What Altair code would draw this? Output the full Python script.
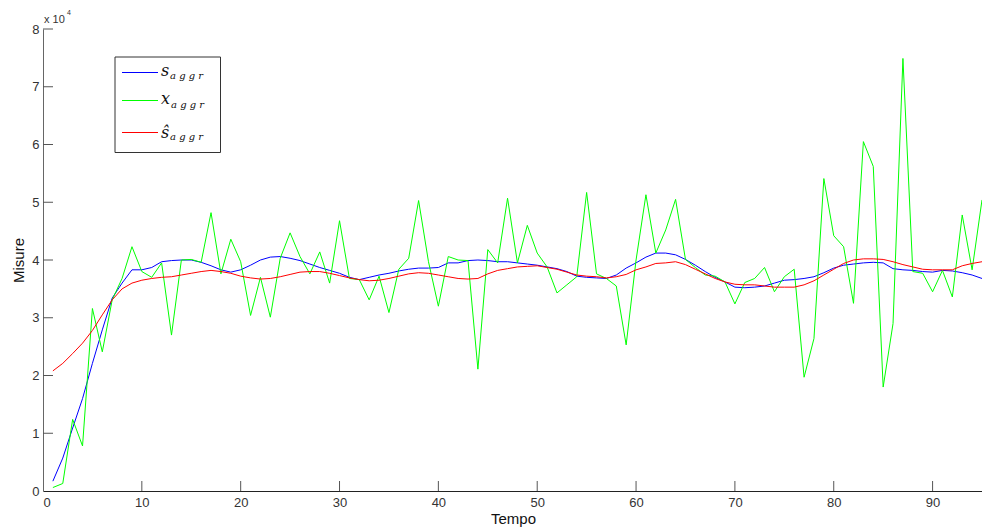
import altair as alt
import pandas as pd

# values in units of 10^4
t = list(range(1, 96))
x_aggr = [0.06, 0.13, 1.24, 0.78, 3.16, 2.41, 3.31, 3.68, 4.23, 3.80,
          3.70, 3.95, 2.70, 4.00, 4.01, 3.96, 4.82, 3.76, 4.36, 3.97,
          3.04, 3.70, 3.01, 4.03, 4.47, 4.06, 3.76, 4.14, 3.60, 4.68,
          3.68, 3.66, 3.31, 3.72, 3.09, 3.84, 4.03, 5.03, 3.97, 3.20,
          4.06, 4.00, 3.99, 2.11, 4.18, 3.95, 5.07, 3.95, 4.60, 4.12,
          3.88, 3.43, 3.57, 3.71, 5.17, 3.76, 3.68, 3.55, 2.53, 4.00,
          5.13, 4.12, 4.52, 5.05, 4.01, 3.87, 3.74, 3.72, 3.62, 3.24,
          3.61, 3.68, 3.87, 3.45, 3.71, 3.84, 1.97, 2.64, 5.41, 4.42,
          4.23, 3.25, 6.05, 5.62, 1.80, 2.90, 7.49, 3.80, 3.77, 3.45,
          3.82, 3.36, 4.78, 3.83, 5.04]
s_aggr = [0.17, 0.57, 1.09, 1.60, 2.21, 2.79, 3.34, 3.60, 3.83, 3.83,
          3.87, 3.97, 3.99, 4.00, 4.00, 3.96, 3.90, 3.83, 3.79, 3.83,
          3.91, 4.00, 4.05, 4.06, 4.03, 3.99, 3.93, 3.87, 3.82, 3.77,
          3.70, 3.66, 3.70, 3.74, 3.77, 3.81, 3.84, 3.86, 3.86, 3.87,
          3.95, 3.95, 3.99, 4.00, 3.99, 3.97, 3.97, 3.95, 3.93, 3.91,
          3.88, 3.85, 3.80, 3.72, 3.70, 3.69, 3.68, 3.74, 3.86, 3.95,
          4.05, 4.12, 4.12, 4.09, 4.01, 3.91, 3.80, 3.70, 3.62, 3.53,
          3.52, 3.53, 3.55, 3.60, 3.65, 3.66, 3.68, 3.71, 3.78, 3.86,
          3.91, 3.93, 3.95, 3.96, 3.95, 3.85, 3.83, 3.82, 3.80, 3.79,
          3.82, 3.81, 3.78, 3.74, 3.68]
s_hat = [2.08, 2.21, 2.38, 2.56, 2.78, 3.05, 3.31, 3.50, 3.60, 3.65,
         3.68, 3.70, 3.71, 3.74, 3.77, 3.80, 3.82, 3.80, 3.77, 3.72,
         3.69, 3.67, 3.68, 3.71, 3.75, 3.79, 3.80, 3.80, 3.77, 3.73,
         3.69, 3.66, 3.64, 3.65, 3.68, 3.72, 3.76, 3.78, 3.77, 3.74,
         3.71, 3.68, 3.67, 3.68, 3.76, 3.82, 3.85, 3.88, 3.89, 3.90,
         3.87, 3.84, 3.79, 3.74, 3.72, 3.71, 3.69, 3.71, 3.75, 3.83,
         3.88, 3.94, 3.95, 3.97, 3.92, 3.84, 3.76, 3.68, 3.62, 3.58,
         3.57, 3.57, 3.55, 3.53, 3.53, 3.53, 3.57, 3.64, 3.74, 3.84,
         3.94, 4.00, 4.02, 4.02, 4.01, 3.97, 3.92, 3.88, 3.84, 3.83,
         3.83, 3.83, 3.90, 3.94, 3.97]
y_ticks = [1, 2, 3, 4, 5, 6, 7, 8]
x_ticks = [10, 20, 30, 40, 50, 60, 70, 80, 90]

W, H = 939, 462
FONT = "Liberation Sans, Arial, sans-serif"
SERIF = "DejaVu Serif, serif"

df = pd.DataFrame({"t": t, "x": x_aggr, "s": s_aggr, "sh": s_hat})

xs = alt.Scale(domain=[0, 95], nice=False, zero=False)
ys = alt.Scale(domain=[0, 8], nice=False)

xaxis = alt.Axis(values=[0] + x_ticks, format="d", ticks=False, grid=False,
                 labelFontSize=13, labelColor="#333", labelFont=FONT,
                 labelPadding=5, domainColor="#222", title="Tempo",
                 titleFont=FONT, titleFontSize=15, titleFontWeight="normal",
                 titleColor="#111", titleX=470, titleY=27,
                 titleBaseline="middle", titleAlign="center")
yaxis = alt.Axis(values=[0] + y_ticks, format="d", ticks=False, grid=False,
                 labelFontSize=13, labelColor="#333", labelFont=FONT,
                 labelPadding=4, domainColor="#666", title="Misure",
                 titleFont=FONT, titleFontSize=15, titleFontWeight="normal",
                 titleColor="#111", titleX=-25, titleY=231, titleAngle=270,
                 titleBaseline="middle", titleAlign="center")

base = alt.Chart(df)
line_s = base.mark_line(color="#0000ff", strokeWidth=1).encode(
    x=alt.X("t:Q", scale=xs, axis=xaxis), y=alt.Y("s:Q", scale=ys, axis=yaxis))
line_x = base.mark_line(color="#00ff00", strokeWidth=1).encode(
    x=alt.X("t:Q", scale=xs), y=alt.Y("x:Q", scale=ys))
line_h = base.mark_line(color="#ff0000", strokeWidth=1).encode(
    x=alt.X("t:Q", scale=xs), y=alt.Y("sh:Q", scale=ys))

yt = alt.Chart(pd.DataFrame({"v": y_ticks})).mark_rule(color="#555", strokeWidth=1).encode(
    y=alt.Y("v:Q", scale=ys), x=alt.value(0), x2=alt.value(10))
xt = alt.Chart(pd.DataFrame({"v": x_ticks})).mark_rule(color="#555", strokeWidth=1).encode(
    x=alt.X("v:Q", scale=xs), y=alt.value(H), y2=alt.value(H - 10))

one = pd.DataFrame({"k": [0]})


def txt(s, x, y, size, font=FONT, style="normal", color="#222"):
    return alt.Chart(one).mark_text(align="left", baseline="alphabetic",
                                    fontSize=size, font=font, fontStyle=style,
                                    color=color).encode(
        x=alt.value(x), y=alt.value(y), text=alt.value(s))


def rule(x1, x2, y, color):
    return alt.Chart(one).mark_rule(color=color, strokeWidth=1).encode(
        x=alt.value(x1), x2=alt.value(x2), y=alt.value(y))


box = alt.Chart(one).mark_rect(fill="white", stroke="#333", strokeWidth=1).encode(
    x=alt.value(72), x2=alt.value(177.5), y=alt.value(28), y2=alt.value(123.5))

legend = [
    box,
    rule(79, 115, 43.5, "#0000ff"),
    rule(79, 115, 71.5, "#00ff00"),
    rule(79, 115, 103.5, "#ff0000"),
    txt("s", 118, 46.5, 16, SERIF, "italic", "#111"),
    txt("a g g r", 127, 49.5, 10, SERIF, "italic", "#111"),
    txt("x", 118, 75, 16, SERIF, "italic", "#111"),
    txt("a g g r", 128, 78.5, 10, SERIF, "italic", "#111"),
    txt("ŝ", 118, 109, 16, SERIF, "italic", "#111"),
    txt("a g g r", 127, 111, 10, SERIF, "italic", "#111"),
]

expo = [txt("x 10", 1, -6, 11, FONT, "normal", "#333"),
        txt("4", 24, -14, 7, FONT, "normal", "#333")]

chart = alt.layer(line_s, line_x, line_h, yt, xt, *legend, *expo).properties(
    width=W, height=H,
    padding={"left": 35, "top": 21, "right": 0, "bottom": 37},
    autosize=alt.AutoSizeParams(type="none"),
    background="white",
).configure_view(stroke="transparent", strokeWidth=0)

chart.save("out.html", embed_options={"renderer": "svg", "actions": False})
